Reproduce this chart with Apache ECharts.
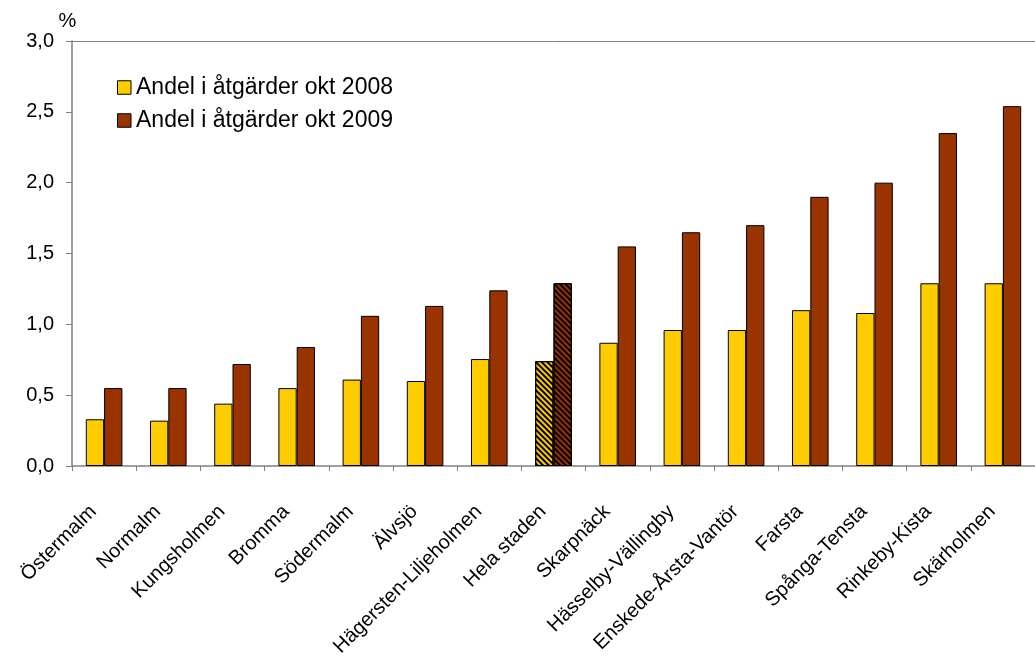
<!DOCTYPE html>
<html><head><meta charset="utf-8">
<script src="https://cdn.jsdelivr.net/npm/echarts@6/dist/echarts.min.js"></script>
<style>html,body{margin:0;padding:0;background:#fff}#c{width:1035px;height:660px}</style>
</head><body><div id="c"></div>
<script>
const categories = ["Östermalm","Normalm","Kungsholmen","Bromma","Södermalm","Älvsjö","Hägersten-Liljeholmen","Hela staden","Skarpnäck","Hässelby-Vällingby","Enskede-Årsta-Vantör","Farsta","Spånga-Tensta","Rinkeby-Kista","Skärholmen"];
const seriesNames = ["Andel i åtgärder okt 2008","Andel i åtgärder okt 2009"];
const values2008 = [0.33,0.32,0.44,0.55,0.61,0.60,0.755,0.74,0.87,0.96,0.96,1.10,1.08,1.29,1.29];
const values2009 = [0.55,0.55,0.72,0.84,1.06,1.13,1.24,1.29,1.55,1.65,1.70,1.90,2.00,2.35,2.54];
const highlightCategory = "Hela staden";
const colors = ["#FFCC00","#993300"];
const font = "Liberation Sans, Arial, sans-serif";

const decal = {symbol:'rect', symbolSize:1, dashArrayX:[[1,0]], dashArrayY:[2,2], rotation:Math.PI/4, color:'#000', backgroundColor:null};
function mk(vals){
  return vals.map((v,i)=> categories[i]===highlightCategory ? {value:v, itemStyle:{decal:decal}} : v);
}
const chart = echarts.init(document.getElementById('c'), null, {renderer:'canvas'});
chart.setOption({
  animation:false,
  aria:{enabled:false},
  color:colors,
  textStyle:{fontFamily:font},
  grid:{left:72, top:41, bottom:194, right:-12},
  legend:{
    left:117, top:76, padding:0, orient:'vertical', itemGap:10, itemWidth:13.5, itemHeight:13.5,
    icon:'rect', itemStyle:{borderColor:'#000', borderWidth:1},
    textStyle:{fontSize:23, lineHeight:22, color:'#000', fontFamily:font},
    data:seriesNames
  },
  xAxis:[{
    type:'category', data:categories,
    axisLine:{lineStyle:{color:'#808080', width:1.5}},
    axisTick:{show:true, length:5, lineStyle:{color:'#808080'}},
    axisLabel:{rotate:45, interval:0, fontSize:20, color:'#000', fontFamily:font, margin:32, padding:[0,15,0,0]}
  },{
    type:'category', data:categories, position:'top',
    axisLine:{show:true, onZero:false, lineStyle:{color:'#808080', width:1}},
    axisTick:{show:false}, axisLabel:{show:false}
  }],
  yAxis:{
    type:'value', min:0, max:3, interval:0.5,
    name:'%', nameLocation:'end', nameGap:6,
    nameTextStyle:{fontSize:20, color:'#000', fontFamily:font, align:'center', padding:[0,9,0,0]},
    axisLine:{show:true, lineStyle:{color:'#808080', width:1.5}},
    axisTick:{show:true, length:6, lineStyle:{color:'#808080'}},
    splitLine:{show:false},
    axisLabel:{fontSize:20, color:'#000', fontFamily:font, margin:18,
      formatter:v=>v.toFixed(1).replace('.',',')}
  },
  series:[
    {name:seriesNames[0], type:'bar', data:mk(values2008), barGap:'0%', barCategoryGap:'43%',
     itemStyle:{borderColor:'#000', borderWidth:1}},
    {name:seriesNames[1], type:'bar', data:mk(values2009), barGap:'0%', barCategoryGap:'43%',
     itemStyle:{borderColor:'#000', borderWidth:1}}
  ]
});
</script></body></html>
